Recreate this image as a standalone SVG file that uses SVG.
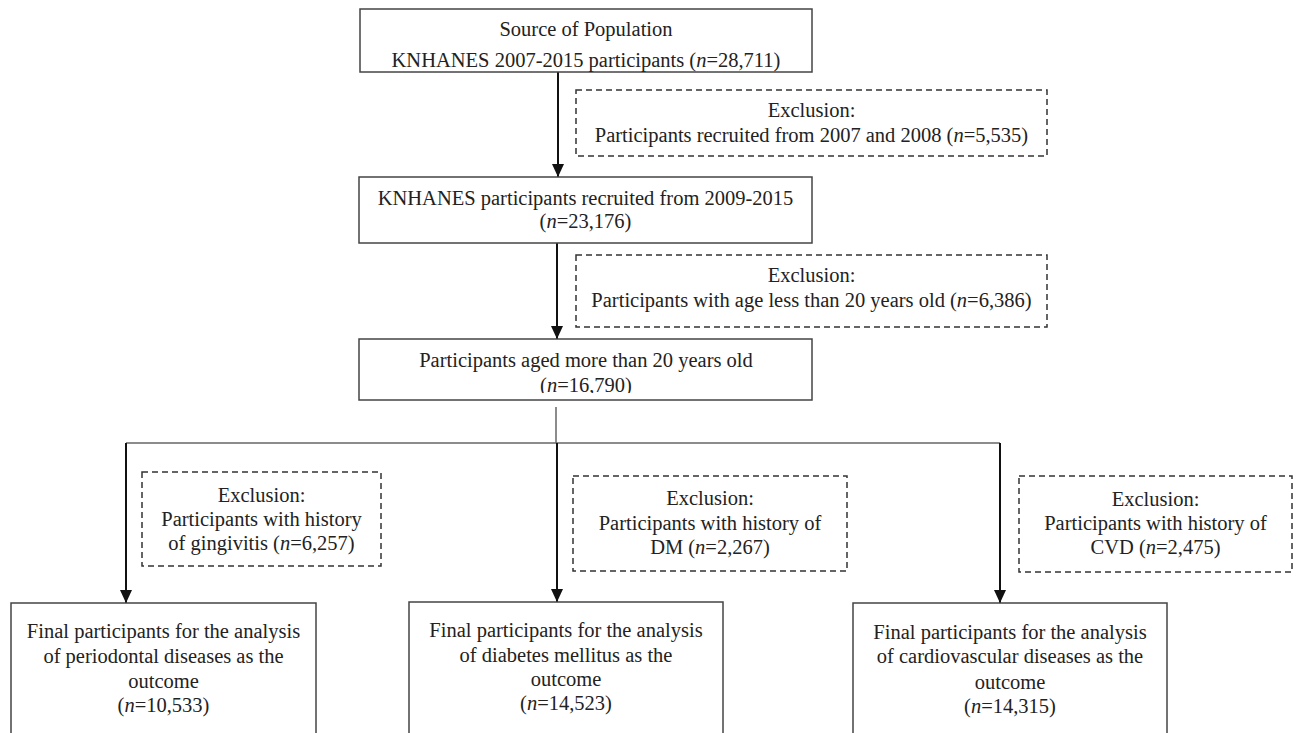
<svg xmlns="http://www.w3.org/2000/svg" width="1296" height="733" viewBox="0 0 1296 733">
  <style>
    text { font-family: "Liberation Serif", "Times New Roman", serif; font-size: 20.5px; fill: #222; text-anchor: middle; }
    .i { font-style: italic; }
    .box { fill: #fff; stroke: #444; stroke-width: 1.5; }
    .dash { fill: #fff; stroke: #333; stroke-width: 1.5; stroke-dasharray: 6 4; }
    .conn { fill: none; stroke: #111; stroke-width: 2; }
    .thin { fill: none; stroke: #666; stroke-width: 1.5; }
  </style>
  <defs>
    <marker id="arr" markerUnits="userSpaceOnUse" markerWidth="13" markerHeight="13" refX="13" refY="6.5" orient="auto">
      <path d="M0,0.5 L13,6.5 L0,12.5 z" fill="#111"/>
    </marker>
    <clipPath id="clip3"><rect x="359" y="339" width="453" height="54"/></clipPath>
  </defs>
  <rect width="1296" height="733" fill="#fff"/>

  <g id="connectors">
    <line class="conn" x1="558" y1="72" x2="558" y2="177" marker-end="url(#arr)"/>
    <line class="conn" x1="557" y1="243" x2="557" y2="339" marker-end="url(#arr)"/>
    <line class="thin" x1="556" y1="407" x2="556" y2="443"/>
    <line class="thin" x1="126" y1="443" x2="1000" y2="443"/>
    <line class="conn" x1="126" y1="443" x2="126" y2="603" marker-end="url(#arr)"/>
    <line class="conn" x1="557" y1="443" x2="557" y2="602" marker-end="url(#arr)"/>
    <line class="conn" x1="1000" y1="443" x2="1000" y2="603" marker-end="url(#arr)"/>
  </g>

  <g id="source">
    <rect class="box" x="360" y="9" width="452" height="63"/>
    <text x="586" y="36">Source of Population</text>
    <text x="586" y="67">KNHANES 2007-2015 participants (<tspan class="i">n</tspan>=28,711)</text>
  </g>

  <g id="excl1">
    <rect class="dash" x="576" y="90" width="471" height="66"/>
    <text x="811.5" y="117">Exclusion:</text>
    <text x="811.5" y="142">Participants recruited from 2007 and 2008 (<tspan class="i">n</tspan>=5,535)</text>
  </g>

  <g id="recruited">
    <rect class="box" x="359" y="177" width="453" height="66"/>
    <text x="585.5" y="205">KNHANES participants recruited from 2009-2015</text>
    <text x="585.5" y="228">(<tspan class="i">n</tspan>=23,176)</text>
  </g>

  <g id="excl2">
    <rect class="dash" x="576" y="255" width="471" height="72"/>
    <text x="811.5" y="282">Exclusion:</text>
    <text x="811.5" y="307">Participants with age less than 20 years old (<tspan class="i">n</tspan>=6,386)</text>
  </g>

  <g id="adults">
    <rect class="box" x="359" y="339" width="453" height="61"/>
    <text x="586" y="367">Participants aged more than 20 years old</text>
    <text x="586" y="392" clip-path="url(#clip3)">(<tspan class="i">n</tspan>=16,790)</text>
  </g>

  <g id="excl-gingivitis">
    <rect class="dash" x="142" y="472" width="239" height="94"/>
    <text x="261.5" y="502">Exclusion:</text>
    <text x="261.5" y="526">Participants with history</text>
    <text x="261.5" y="550">of gingivitis (<tspan class="i">n</tspan>=6,257)</text>
  </g>

  <g id="excl-dm">
    <rect class="dash" x="573" y="476" width="274" height="95"/>
    <text x="710" y="505">Exclusion:</text>
    <text x="710" y="530">Participants with history of</text>
    <text x="710" y="554">DM (<tspan class="i">n</tspan>=2,267)</text>
  </g>

  <g id="excl-cvd">
    <rect class="dash" x="1019" y="476" width="273" height="96"/>
    <text x="1155.5" y="506">Exclusion:</text>
    <text x="1155.5" y="530">Participants with history of</text>
    <text x="1155.5" y="554">CVD (<tspan class="i">n</tspan>=2,475)</text>
  </g>

  <g id="final-periodontal">
    <rect class="box" x="11" y="603" width="305" height="150"/>
    <text x="163.5" y="638">Final participants for the analysis</text>
    <text x="163.5" y="663">of periodontal diseases as the</text>
    <text x="163.5" y="688">outcome</text>
    <text x="163.5" y="712">(<tspan class="i">n</tspan>=10,533)</text>
  </g>

  <g id="final-dm">
    <rect class="box" x="409" y="602" width="314" height="150"/>
    <text x="566" y="637">Final participants for the analysis</text>
    <text x="566" y="662">of diabetes mellitus as the</text>
    <text x="566" y="686">outcome</text>
    <text x="566" y="710">(<tspan class="i">n</tspan>=14,523)</text>
  </g>

  <g id="final-cvd">
    <rect class="box" x="853" y="603" width="314" height="150"/>
    <text x="1010" y="639">Final participants for the analysis</text>
    <text x="1010" y="663">of cardiovascular diseases as the</text>
    <text x="1010" y="689">outcome</text>
    <text x="1010" y="713">(<tspan class="i">n</tspan>=14,315)</text>
  </g>
</svg>
